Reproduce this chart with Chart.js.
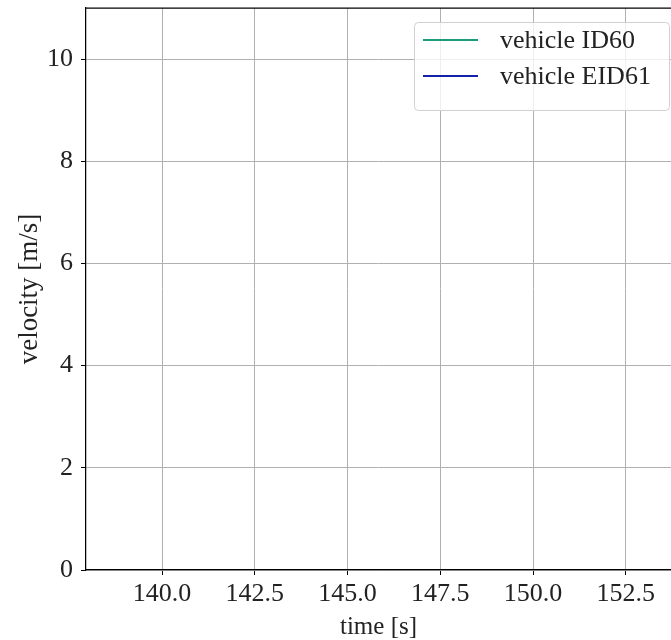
<!DOCTYPE html>
<html>
<head>
<meta charset="utf-8">
<script src="https://cdn.jsdelivr.net/npm/chart.js@4.4.0/dist/chart.umd.min.js"></script>
<style>
  html, body { margin: 0; padding: 0; background: #fff; overflow: hidden; }
  #wrap { width: 671px; height: 640px; }
</style>
</head>
<body>
<div id="wrap"><canvas id="velocityChart" width="671" height="640"></canvas></div>
<script>
// series (nothing falls inside the visible window)
const seriesLabels = ['vehicle ID60', 'vehicle EID61'];
const seriesColors = ['#1b9a7c', '#1320a8'];
const timeID60 = [];
const velocityID60 = [];
const timeEID61 = [];
const velocityEID61 = [];

// axes
const xTicks = [140.0, 142.5, 145.0, 147.5, 150.0, 152.5];
const yTicks = [0, 2, 4, 6, 8, 10];
const xRange = [137.95, 153.72];
const yRange = [0, 11];

const fontFamily = '"Liberation Serif", "DejaVu Serif", serif';
const textColor = '#222';

function toPoints(xs, ys) {
    return xs.map((x, i) => ({ x: x, y: ys[i] }));
}

// frame on top + matplotlib-like legend box
const frameAndLegend = {
    id: 'frameAndLegend',
    afterDraw(chart) {
        const ctx = chart.ctx;
        const a = chart.chartArea;
        ctx.save();
        ctx.strokeStyle = '#000';
        ctx.lineWidth = 1.25;
        ctx.beginPath();
        ctx.moveTo(a.left, a.top);
        ctx.lineTo(a.right + 2, a.top);
        ctx.stroke();

        // legend
        const bx = 414, by = 22, bw = 255, bh = 88, r = 4;
        ctx.fillStyle = 'rgba(255,255,255,0.8)';
        ctx.strokeStyle = '#d0d0d0';
        ctx.lineWidth = 1;
        ctx.beginPath();
        ctx.roundRect(bx + 0.5, by + 0.5, bw, bh, r);
        ctx.fill();
        ctx.stroke();

        ctx.font = '26px ' + fontFamily;
        ctx.textBaseline = 'middle';
        ctx.textAlign = 'left';
        chart.data.datasets.forEach((ds, i) => {
            const y = by + 18 + i * 36;
            ctx.strokeStyle = ds.borderColor;
            ctx.lineWidth = 2;
            ctx.beginPath();
            ctx.moveTo(bx + 9, y);
            ctx.lineTo(bx + 64, y);
            ctx.stroke();
            ctx.fillStyle = textColor;
            ctx.fillText(ds.label, bx + 86, y + 1);
        });
        ctx.restore();
    }
};

const ctxVel = document.getElementById('velocityChart').getContext('2d');

const velocityChart = new Chart(ctxVel, {
    type: 'line',
    data: {
        datasets: [{
            label: seriesLabels[0],
            data: toPoints(timeID60, velocityID60),
            borderColor: seriesColors[0],
            borderWidth: 2,
            pointRadius: 0,
            fill: false
        }, {
            label: seriesLabels[1],
            data: toPoints(timeEID61, velocityEID61),
            borderColor: seriesColors[1],
            borderWidth: 2,
            pointRadius: 0,
            fill: false
        }]
    },
    options: {
        responsive: false,
        animation: false,
        layout: { padding: { top: 8, right: 0, left: 0, bottom: 0 } },
        plugins: {
            legend: { display: false },
            tooltip: { enabled: false }
        },
        scales: {
            x: {
                type: 'linear',
                min: xRange[0],
                max: xRange[1],
                afterBuildTicks: (axis) => { axis.ticks = xTicks.map(v => ({ value: v })); },
                afterFit: (axis) => {
                    axis.height = 70;
                    axis.paddingLeft = 0;
                    axis.paddingRight = 0;
                },
                ticks: {
                    color: textColor,
                    font: { family: fontFamily, size: 26 },
                    padding: 4,
                    maxRotation: 0,
                    callback: (v) => Number(v).toFixed(1)
                },
                grid: { color: '#b0b0b0', lineWidth: 1, tickLength: 5, tickColor: '#000' },
                border: { display: true, color: '#000', width: 1.25 },
                title: {
                    display: true,
                    text: 'time [s]',
                    color: textColor,
                    font: { family: fontFamily, size: 25, lineHeight: 1.0 },
                    padding: { top: 0, bottom: 0 }
                }
            },
            y: {
                type: 'linear',
                min: yRange[0],
                max: yRange[1],
                afterBuildTicks: (axis) => { axis.ticks = yTicks.map(v => ({ value: v })); },
                afterFit: (axis) => {
                    axis.width = 86;
                    axis.paddingTop = 0;
                    axis.paddingBottom = 0;
                },
                ticks: {
                    color: textColor,
                    font: { family: fontFamily, size: 26 },
                    padding: 8
                },
                grid: { color: '#b0b0b0', lineWidth: 1, tickLength: 5, tickColor: '#000' },
                border: { display: true, color: '#000', width: 1.25 },
                title: {
                    display: true,
                    text: 'velocity [m/s]',
                    color: textColor,
                    font: { family: fontFamily, size: 27 },
                    padding: { top: 14, bottom: 0 }
                }
            }
        }
    },
    plugins: [frameAndLegend]
});
</script>
</body>
</html>
